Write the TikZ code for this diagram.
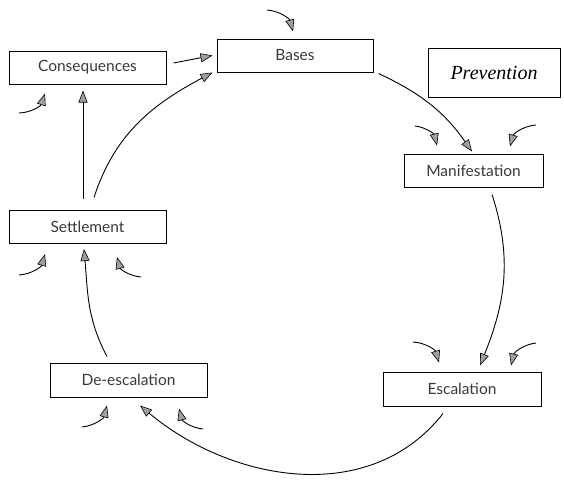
\documentclass[tikz,border=0pt]{standalone}
\usepackage{fontspec}
\setmainfont{Lato}
\newfontfamily\prevfont{Liberation Serif}
\usetikzlibrary{arrows.meta}
\tikzset{
  stagebox/.style={draw=black, line width=1pt, minimum height=33pt, inner sep=0pt,
    font=\fontsize{15.5}{17}\selectfont, text=black!78},
  flow/.style={line width=0.9pt, -{Triangle[length=12pt,width=9pt,fill=gray!75,line width=0.6pt]}},
  infl/.style={flow},
}
\begin{document}
\begin{tikzpicture}[x=1pt,y=1pt]
\useasboundingbox (0,0) rectangle (564,-479);
% boxes
\node[stagebox, minimum width=157pt] (cons) at (87.5,-67.5) {Consequences};
\node[stagebox, minimum width=156pt] (bases) at (295,-55.5) {Bases};
\node[draw=black, line width=1pt, minimum width=132pt, minimum height=49pt, inner sep=0pt,
      font=\prevfont\itshape\fontsize{20}{22}\selectfont] (prev) at (494,-72.5) {Prevention};
\node[stagebox, minimum width=139pt] (manif) at (473.5,-170.5) {Manifestation};
\node[stagebox, minimum width=157pt] (settle) at (87.5,-227) {Settlement};
\node[stagebox, minimum width=157pt, minimum height=34pt] (deesc) at (128.5,-380) {De-escalation};
\node[stagebox, minimum width=158pt, minimum height=34pt] (esc) at (462,-389) {Escalation};
% main cycle connectors
\draw[flow] ([shift={(7,4.5)}]cons.east) -- ([shift={(-4,0)}]bases.west);
\draw[flow] ([shift={(-4.5,11)}]settle.north) -- ([shift={(-4.5,-6)}]cons.south);
\draw[flow] ([shift={(6.5,12.5)}]settle.north) to[out=72,in=208] ([shift={(-4,0)}]bases.south west);
\draw[flow] ([shift={(5,-1)}]bases.south east) to[out=-25,in=125] ([shift={(-1.5,2)}]manif.north);
\draw[flow] ([shift={(18.5,-7)}]manif.south) to[out=-72,in=68] ([shift={(18,6)}]esc.north);
\draw[flow] ([shift={(-19,-7)}]esc.south) to[out=-128,in=-40] ([shift={(11.5,-8)}]deesc.south);
\draw[flow] ([shift={(-21.5,6)}]deesc.north) to[out=118,in=-85] ([shift={(-3.5,-5)}]settle.south);
% influence arrows
\coordinate (ib) at (267,-10);
\coordinate (ic) at (19,-113);
\coordinate (iml) at (415,-126);
\coordinate (imr) at (536,-125);
\coordinate (isl) at (19,-275);
\coordinate (isr) at (141,-277);
\coordinate (iel) at (413,-342);
\coordinate (ier) at (536,-343);
\coordinate (idl) at (82,-427);
\coordinate (idr) at (203,-429);
\draw[infl] (ib) to[bend left=35] ([shift={(-2,7)}]bases.north);
\draw[infl] (ic) to[bend right=35] ([shift={(-42.5,-9)}]cons.south);
\draw[infl] (iml) to[bend left=35] ([shift={(-36.5,8)}]manif.north);
\draw[infl] (imr) to[bend right=35] ([shift={(36.5,7)}]manif.north);
\draw[infl] (isl) to[bend right=35] ([shift={(-42.5,-10)}]settle.south);
\draw[infl] (isr) to[bend left=35] ([shift={(29.5,-13)}]settle.south);
\draw[infl] (iel) to[bend left=35] ([shift={(-23,9)}]esc.north);
\draw[infl] (ier) to[bend right=35] ([shift={(49,6)}]esc.north);
\draw[infl] (idl) to[bend right=35] ([shift={(-21.5,-8)}]deesc.south);
\draw[infl] (idr) to[bend left=35] ([shift={(50.5,-11)}]deesc.south);
\end{tikzpicture}
\end{document}
